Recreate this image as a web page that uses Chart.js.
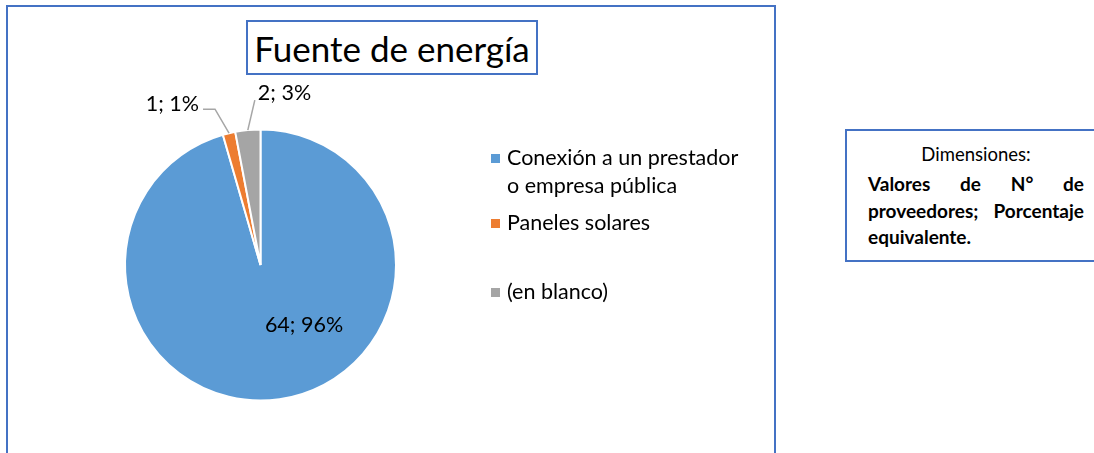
<!DOCTYPE html>
<html>
<head>
<meta charset="utf-8">
<script src="https://cdn.jsdelivr.net/npm/chart.js@4"></script>
<style>
  body { margin: 0; width: 1094px; height: 453px; overflow: hidden; background: #fff; font-family: Lato, "Open Sans", sans-serif; position: relative; }
  #frame { position: absolute; left: 6px; top: 5px; width: 766px; height: 470px; border: 2px solid #4472C4; border-bottom: none; }
  #title { position: absolute; left: 246px; top: 20px; width: 288px; height: 51px; border: 2px solid #4472C4; font-size: 35px; line-height: 52px; text-align: center; color: #000; }
  #dims { position: absolute; left: 845px; top: 129px; width: 260px; height: 129px; border: 2px solid #4472C4; }
  #dims .head { position: absolute; left: 21px; top: 12px; width: 216px; text-align: center; font-size: 18.5px; }
  #dims .body { position: absolute; left: 21px; top: 40px; width: 216px; text-align: justify; font-size: 19px; font-weight: bold; line-height: 26.5px; }
  canvas { position: absolute; left: 0; top: 0; }
</style>
</head>
<body>
<div id="frame"></div>
<div id="title">Fuente de energía</div>
<div id="dims">
  <div class="head">Dimensiones:</div>
  <div class="body">Valores de N° de proveedores; Porcentaje equivalente.</div>
</div>
<canvas id="pie" width="1094" height="453"></canvas>
<script>
// data
const categories = ['Conexión a un prestador o empresa pública', 'Paneles solares', '(en blanco)'];
const counts = [64, 1, 2];
const percents = ['96%', '1%', '3%'];
const colors = ['#5B9BD5', '#ED7D31', '#A5A5A5'];

const FONT = 'Lato, "Open Sans", sans-serif';

// labels "n; p%" — inside for the big slice, outside with leader lines for small ones
const sliceLabels = {
  id: 'sliceLabels',
  afterDatasetsDraw(chart) {
    const ctx = chart.ctx;
    const arcs = chart.getDatasetMeta(0).data;
    ctx.save();
    ctx.font = '21.5px ' + FONT;
    ctx.fillStyle = '#000';
    ctx.textBaseline = 'middle';
    arcs.forEach((arc, i) => {
      const text = counts[i] + '; ' + percents[i];
      const mid = (arc.startAngle + arc.endAngle) / 2;
      if (i === 0) {
        const p = arc.tooltipPosition();
        ctx.textAlign = 'center';
        ctx.fillText(text, p.x + 34, p.y - 7);
        return;
      }
      const ex = arc.x + Math.cos(mid) * arc.outerRadius;
      const ey = arc.y + Math.sin(mid) * arc.outerRadius;
      ctx.strokeStyle = '#A6A6A6';
      ctx.lineWidth = 1.5;
      ctx.beginPath();
      ctx.moveTo(ex, ey);
      if (i === 1) {
        ctx.lineTo(ex - 14, ey - 24);
        ctx.lineTo(ex - 26, ey - 24);
        ctx.stroke();
        ctx.textAlign = 'right';
        ctx.fillText(text, ex - 30, ey - 29);
      } else {
        ctx.lineTo(ex + 7, ey - 30);
        ctx.stroke();
        ctx.textAlign = 'left';
        ctx.fillText(text, ex + 10, ey - 37);
      }
    });
    ctx.restore();
  }
};

// legend on the right, wrapped like the original
const sideLegend = {
  id: 'sideLegend',
  afterDraw(chart) {
    const ctx = chart.ctx;
    const itemY = [158, 223, 292];
    const x = 491, maxW = 242, lineH = 28;
    ctx.save();
    ctx.font = '21.5px ' + FONT;
    ctx.textBaseline = 'middle';
    ctx.textAlign = 'left';
    chart.data.labels.forEach((label, i) => {
      const words = label.split(' ');
      const lines = [];
      let cur = '';
      words.forEach(w => {
        const t = cur ? cur + ' ' + w : w;
        if (ctx.measureText(t).width > maxW && cur) { lines.push(cur); cur = w; } else { cur = t; }
      });
      lines.push(cur);
      ctx.fillStyle = chart.data.datasets[0].backgroundColor[i];
      ctx.fillRect(x, itemY[i] - 4, 9, 9);
      ctx.fillStyle = '#000';
      lines.forEach((ln, k) => ctx.fillText(ln, x + 16, itemY[i] + k * lineH));
    });
    ctx.restore();
  }
};

new Chart(document.getElementById('pie'), {
  type: 'pie',
  data: {
    labels: categories,
    datasets: [{
      data: counts,
      backgroundColor: colors,
      borderColor: '#ffffff',
      borderWidth: 2
    }]
  },
  options: {
    responsive: false,
    animation: false,
    layout: { padding: { left: 124, top: 128.5, right: 697, bottom: 51.5 } },
    plugins: {
      legend: { display: false },
      title: { display: false },
      tooltip: { enabled: false }
    }
  },
  plugins: [sliceLabels, sideLegend]
});
</script>
</body>
</html>
